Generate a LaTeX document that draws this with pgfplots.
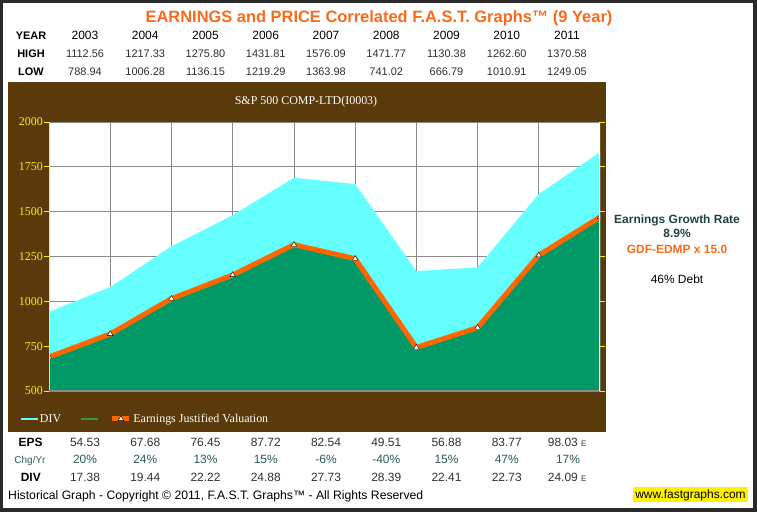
\documentclass[border=0pt]{standalone}
\usepackage{pgfplots}
\pgfplotsset{compat=1.18}
\usepackage{fontspec}
\setmainfont{Liberation Sans}
\newfontfamily\serif{Liberation Serif}
\definecolor{framegray}{HTML}{2A2A2A}
\definecolor{brownbg}{HTML}{5A3A0B}
\definecolor{cyanfill}{HTML}{66FFFF}
\definecolor{greenfill}{HTML}{009966}
\definecolor{orangeline}{HTML}{FF6600}
\definecolor{titleorange}{HTML}{F96A1B}
\definecolor{tealtext}{HTML}{1E4242}
\definecolor{chgteal}{HTML}{2C5A5A}
\definecolor{gridgray}{HTML}{8A8A8A}
\definecolor{legendgreen}{HTML}{339944}
\definecolor{valgray}{HTML}{303030}
\begin{document}
\begin{tikzpicture}[x=1bp,y=1bp]
\fill[framegray] (0,0) rectangle (757,512);
\fill[white] (3,4) rectangle (753,509);
\fill[brownbg] (8,80) rectangle (606,430);
\begin{axis}[
  at={(49bp,121bp)}, anchor=south west,
  width=551bp, height=269bp, scale only axis,
  xmin=0, xmax=9, ymin=500, ymax=2000,
  xtick={1,2,3,4,5,6,7,8}, xticklabels={},
  ytick={500,750,1000,1250,1500,1750,2000},
  grid=major, grid style={draw=gridgray, line width=0.7bp},
  axis line style={draw=none},
  axis background/.style={fill=white},
  tick align=outside, major tick length=5bp,
  ytick style={draw=yellow, line width=0.8bp},
  xtick style={draw=none},
  yticklabel style={text=yellow, font=\serif\fontsize{12}{12}\selectfont, inner xsep=1bp},
  /pgf/number format/assume math mode=true,
  /pgf/number format/1000 sep={},
  clip marker paths=true,
  legend columns=3,
  legend style={at={(-0.0526,-0.104)}, anchor=west, draw=none, fill=none,
    inner sep=0pt, nodes={inner xsep=1.5bp},
    text=white, font=\serif\fontsize{12}{12}\selectfont,
    /tikz/column 2/.style={column sep=18bp},
    /tikz/column 4/.style={column sep=8bp}},
]
\addplot[fill=cyanfill, draw=none, forget plot] coordinates {
  (0,941) (1,1079) (2,1307) (3,1480) (4,1689) (5,1654) (6,1169) (7,1189) (8,1598) (9,1831)} \closedcycle;
\addplot[fill=greenfill, draw=none, forget plot] coordinates {
  (0,690) (1,818) (2,1015) (3,1147) (4,1316) (5,1238) (6,743) (7,853) (8,1257) (9,1470)} \closedcycle;
\addlegendimage{cyanfill, line width=1.2bp}
\addlegendentry{DIV}
\addlegendimage{legendgreen, line width=1.2bp}
\addlegendentry{}
\addplot[orangeline, line width=5bp, mark=triangle*,
  mark options={fill=white, draw=black, line width=0.4bp}, mark size=3.2bp] coordinates {
  (0,690) (1,818) (2,1015) (3,1147) (4,1316) (5,1238) (6,743) (7,853) (8,1257) (9,1470)};
\addlegendentry{Earnings Justified Valuation}
\draw[yellow, line width=1bp] (rel axis cs:0,0) -- (rel axis cs:0,1);
\draw[gridgray, line width=1bp] (rel axis cs:0,0) -- (rel axis cs:1,0);
\draw[white, line width=1.5bp] (rel axis cs:1,0) -- (rel axis cs:1,1);
\end{axis}
% chart title
\node[anchor=base, text=white, font=\serif\fontsize{12}{12}\selectfont] at (306,407) {S\&P 500 COMP-LTD(I0003)};
% main title
\node[anchor=base, text=titleorange, font=\bfseries\fontsize{16.5}{16.5}\selectfont] at (379,489.7) {EARNINGS and PRICE Correlated F.A.S.T. Graphs™ (9 Year)};
% top table
\node[anchor=base, font=\bfseries\fontsize{11}{11}\selectfont] at (31,472) {YEAR};
\node[anchor=base, font=\bfseries\fontsize{11}{11}\selectfont] at (31,454) {HIGH};
\node[anchor=base, font=\bfseries\fontsize{11}{11}\selectfont] at (31,436.4) {LOW};
\foreach \xx/\yr/\hi/\lo in {85/2003/1112.56/788.94, 145.25/2004/1217.33/1006.28, 205.5/2005/1275.80/1136.15, 265.75/2006/1431.81/1219.29, 326/2007/1576.09/1363.98, 386.25/2008/1471.77/741.02, 446.5/2009/1130.38/666.79, 506.75/2010/1262.60/1010.91, 567/2011/1370.58/1249.05} {
  \node[anchor=base, font=\fontsize{12}{12}\selectfont] at (\xx,472) {\yr};
  \node[anchor=base, text=valgray, font=\fontsize{11}{11}\selectfont] at (\xx,454) {\hi};
  \node[anchor=base, text=valgray, font=\fontsize{11}{11}\selectfont] at (\xx,436.4) {\lo};
}
% bottom table
\node[anchor=base, font=\bfseries\fontsize{12}{12}\selectfont] at (30.7,65.3) {EPS};
\node[anchor=base, text=chgteal, font=\fontsize{10}{10}\selectfont] at (30,48) {Chg/Yr};
\node[anchor=base, font=\bfseries\fontsize{12}{12}\selectfont] at (30.8,30.3) {DIV};
\foreach \xx/\eps/\chg/\dv in {85/54.53/20\%/17.38, 145.25/67.68/24\%/19.44, 205.5/76.45/13\%/22.22, 265.75/87.72/15\%/24.88, 326/82.54/-6\%/27.73, 386.25/49.51/-40\%/28.39, 446.5/56.88/15\%/22.41, 506.75/83.77/47\%/22.73} {
  \node[anchor=base, text=valgray, font=\fontsize{12}{12}\selectfont] at (\xx,65.3) {\eps};
  \node[anchor=base, text=chgteal, font=\fontsize{12}{12}\selectfont] at (\xx,48) {\chg};
  \node[anchor=base, text=valgray, font=\fontsize{12}{12}\selectfont] at (\xx,30.3) {\dv};
}
\node[anchor=base west, inner sep=0pt, text=valgray, font=\fontsize{12}{12}\selectfont] at (547.7,65.3) {98.03 {\fontsize{8}{8}\selectfont E}};
\node[anchor=base, text=chgteal, font=\fontsize{12}{12}\selectfont] at (568,48) {17\%};
\node[anchor=base west, inner sep=0pt, text=valgray, font=\fontsize{12}{12}\selectfont] at (547.7,30.3) {24.09 {\fontsize{8}{8}\selectfont E}};
% copyright
\node[anchor=base west, inner sep=0pt, font=\fontsize{12.25}{12.25}\selectfont] at (8,12.7) {Historical Graph - Copyright © 2011, F.A.S.T. Graphs™ - All Rights Reserved};
% website
\fill[yellow] (632.7,10.3) rectangle (748.3,25.3);
\node[anchor=base, font=\fontsize{12}{12}\selectfont] at (690.5,13.5) {www.fastgraphs.com};
% right side text
\node[anchor=base, text=tealtext, font=\bfseries\fontsize{12}{12}\selectfont] at (677,288) {Earnings Growth Rate};
\node[anchor=base, text=tealtext, font=\bfseries\fontsize{12}{12}\selectfont] at (677,274.3) {8.9\%};
\node[anchor=base, text=titleorange, font=\bfseries\fontsize{12}{12}\selectfont] at (677,258.7) {GDF-EDMP x 15.0};
\node[anchor=base, font=\fontsize{12}{12}\selectfont] at (677,228.7) {46\% Debt};
\end{tikzpicture}
\end{document}
